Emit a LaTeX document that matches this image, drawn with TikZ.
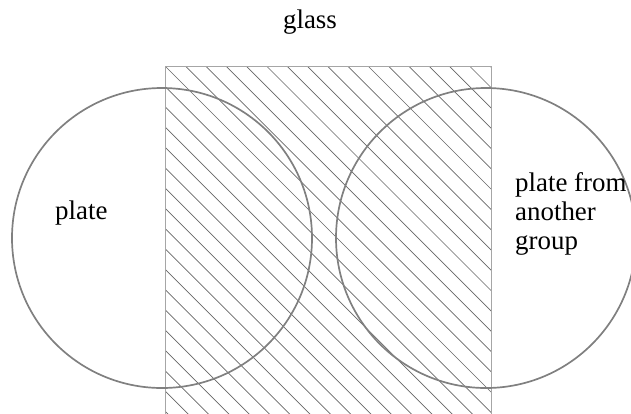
\documentclass[tikz,border=0pt]{standalone}
\usepackage{fontspec}
\setmainfont{Liberation Serif}
\begin{document}
\begin{tikzpicture}[x=1bp,y=-1bp,
  lbl/.style={inner sep=0pt,font=\fontsize{27}{29.5}\selectfont,align=left},
  platec/.style={draw=black!50,line width=1.7bp},
  hatchl/.style={draw=black!60,line width=0.7bp},
  glassr/.style={draw=black!35,line width=0.8bp}]
\useasboundingbox (0,0) rectangle (631,413);
\clip (0,0) rectangle (631,413);
% glass
\begin{scope}
  \clip (165,66) rectangle (491,420);
  \foreach \k in {-18,...,17} {
    \draw[hatchl] ({165+20.3*\k},66) -- ({165+20.3*\k+400},466);
  }
\end{scope}
\draw[glassr] (165,420) -- (165,66) -- (491,66) -- (491,420);
% plates
\node[platec,circle,minimum size=300bp,inner sep=0pt] (p1) at (162,238) {};
\node[platec,circle,minimum size=300bp,inner sep=0pt] (p2) at (486,238) {};
% labels
\node[lbl,anchor=base] (tg) at (310,28) {glass};
\node[lbl,anchor=base west] (tp) at (55,219) {plate};
\node[lbl,anchor=north west] (tq) at (515,172) {plate from\\another\\group};
\end{tikzpicture}
\end{document}
